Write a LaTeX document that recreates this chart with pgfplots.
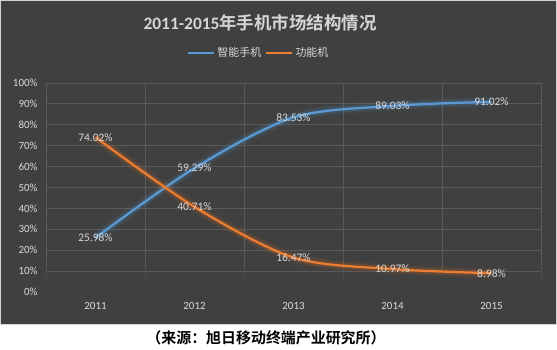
\documentclass[border=0pt]{standalone}
\usepackage{pgfplots}
\pgfplotsset{compat=1.18}
\usepackage{fontspec}
\setmainfont{Carlito}
\newfontfamily\cjk{Noto Sans CJK SC}[BoldFont={Noto Sans CJK SC Bold}]
\definecolor{bg}{HTML}{404040}
\definecolor{gridc}{HTML}{5A5A5A}
\definecolor{txt}{HTML}{D9D9D9}
\definecolor{sblue}{HTML}{5B9BD5}
\definecolor{sorange}{HTML}{ED7D31}
\begin{document}
\begin{tikzpicture}
\useasboundingbox (0bp,0bp) rectangle (557bp,350bp);
\fill[white] (0bp,0bp) rectangle (557bp,350bp);
\fill[bg, draw=gray!35, line width=0.8bp] (0.5bp,25.5bp) rectangle (556.5bp,349.5bp);
\node[text=txt!110!white, font=\fontsize{17.5}{20}\selectfont\bfseries, inner sep=0] at (260bp,327bp) {2011-2015{\cjk\bfseries 年手机市场结构情况}};
\node[text=black, font=\fontsize{15}{17}\selectfont, inner sep=0] at (266bp,12bp) {\cjk\bfseries （来源：旭日移动终端产业研究所）};
\begin{axis}[
  at={(46bp,58bp)}, anchor=south west, scale only axis,
  width=495bp, height=209bp,
  xmin=-0.5, xmax=4.5, ymin=0, ymax=100,
  axis line style={draw=none}, major tick length=0,
  xtick={0,1,2,3,4}, xticklabels={2011,2012,2013,2014,2015},
  ytick={0,10,...,100},
  yticklabels={0\%,10\%,20\%,30\%,40\%,50\%,60\%,70\%,80\%,90\%,100\%},
  tick label style={text=txt, font=\fontsize{11}{13}\selectfont},
  yticklabel style={xshift=-5bp},
  xticklabel style={yshift=-7bp},
  clip=false,
  legend columns=2,
  legend style={at={(0.43,1)}, anchor=center, yshift=30bp, draw=none, fill=none,
    text=txt, font=\fontsize{11}{13}\selectfont, inner sep=0pt,
    nodes={inner sep=2bp},
    /tikz/every even column/.append style={column sep=2bp}},
  legend image code/.code={\draw[#1, line width=2.2bp] (0bp,0bp) -- (26bp,0bp);},
  every node near coord/.style={anchor=center, text=txt, font=\fontsize{11.5}{13}\selectfont},
]
\pgfplotsinvokeforeach{10,20,...,100}{\draw[gridc, line width=0.8bp] (axis cs:-0.5,#1) -- (axis cs:4.5,#1);}
\pgfplotsinvokeforeach{-0.5,0.5,1.5,2.5,3.5,4.5}{
  \draw[gridc, line width=0.8bp] (axis cs:#1,12) -- (axis cs:#1,100);
  \draw[gridc, line width=0.8bp, opacity=0.6] (axis cs:#1,8) -- (axis cs:#1,12);
  \draw[gridc, line width=0.8bp, opacity=0.3] (axis cs:#1,4) -- (axis cs:#1,8);
}
% smart phones
\addplot[sblue!80!black, line width=10bp, opacity=0.10, smooth, forget plot] coordinates {(0,25.98) (1,59.29) (2,83.53) (3,89.03) (4,91.02)};
\addplot[sblue!85!black, line width=6bp, opacity=0.22, smooth, forget plot] coordinates {(0,25.98) (1,59.29) (2,83.53) (3,89.03) (4,91.02)};
\addplot[sblue, line width=2.2bp, smooth, nodes near coords, point meta=explicit symbolic] coordinates {
  (0,25.98) [25.98\%]
  (1,59.29) [59.29\%]
  (2,83.53) [83.53\%]
  (3,89.03) [89.03\%]
  (4,91.02) [91.02\%]
};
\addlegendentry{\cjk 智能手机}
% feature phones
\addplot[sorange!80!black, line width=10bp, opacity=0.10, smooth, forget plot] coordinates {(0,74.02) (1,40.71) (2,16.47) (3,10.97) (4,8.98)};
\addplot[sorange!85!black, line width=6bp, opacity=0.22, smooth, forget plot] coordinates {(0,74.02) (1,40.71) (2,16.47) (3,10.97) (4,8.98)};
\addplot[sorange, line width=2.2bp, smooth, nodes near coords, point meta=explicit symbolic] coordinates {
  (0,74.02) [74.02\%]
  (1,40.71) [40.71\%]
  (2,16.47) [16.47\%]
  (3,10.97) [10.97\%]
  (4,8.98) [8.98\%]
};
\addlegendentry{\cjk 功能机}
\end{axis}
\end{tikzpicture}
\end{document}
